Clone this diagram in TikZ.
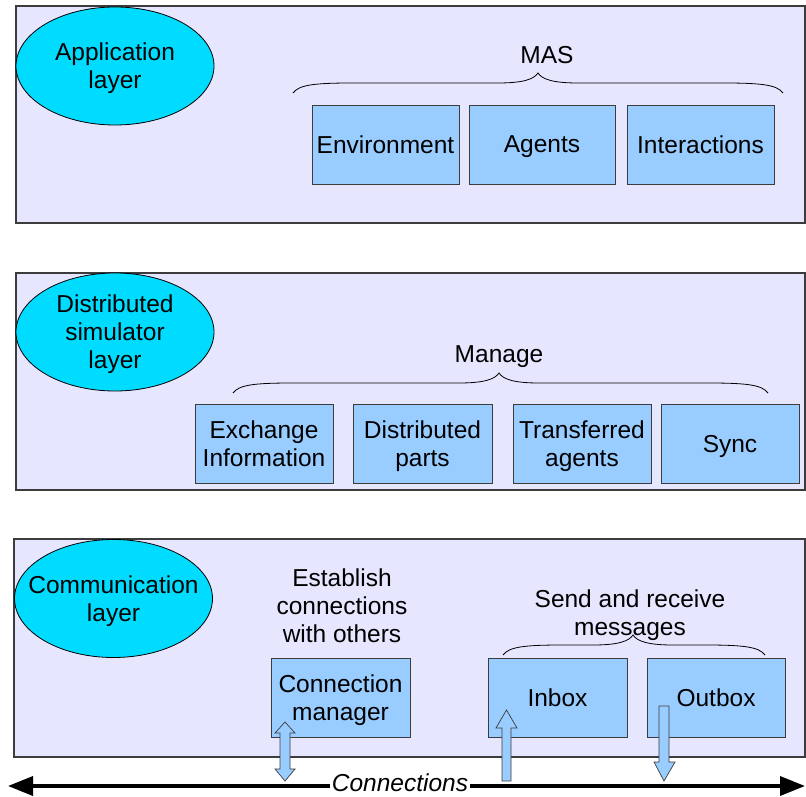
\documentclass[tikz,border=0pt]{standalone}
\usepackage{fontspec}
\setmainfont{Liberation Sans}
\usetikzlibrary{arrows.meta,shapes.geometric}
\definecolor{panelfill}{HTML}{E6E6FF}
\definecolor{ellfill}{HTML}{00DCFF}
\definecolor{boxfill}{HTML}{99CCFF}
\definecolor{edgecol}{HTML}{3C3C3C}
\newcommand{\mybrace}[4]{% #1 left x, #2 tip x, #3 right x, #4 bottom y
  \pgfmathsetmacro{\ya}{#4-10}\pgfmathsetmacro{\yb}{#4-20}\pgfmathsetmacro{\yc}{#4-14}
  \draw[braceline] (#1,#4) .. controls (#1+6,#4-8) and (#1+20,\ya) .. (#1+60,\ya)
    -- (#2-40,\ya) .. controls (#2-14,\ya) and (#2-4,\yc) .. (#2,\yb)
    .. controls (#2+4,\yc) and (#2+14,\ya) .. (#2+40,\ya)
    -- (#3-60,\ya) .. controls (#3-20,\ya) and (#3-6,#4-8) .. (#3,#4);}
\begin{document}
\begin{tikzpicture}[x=1pt,y=-1pt,
  every node/.style={font=\fontsize{24.5}{28}\selectfont, align=center, text depth=0pt},
  panel/.style={rectangle, draw=edgecol, line width=1.1pt, fill=panelfill, inner sep=0},
  layer/.style={ellipse, draw=black, line width=0.8pt, fill=ellfill, inner sep=0, minimum width=198pt, minimum height=118pt},
  compbox/.style={rectangle, draw=edgecol, line width=0.9pt, fill=boxfill, inner sep=0, minimum height=79pt},
  label/.style={inner sep=0},
  braceline/.style={draw=black, line width=0.8pt},
  blockarrow/.style={draw=edgecol, line width=0.7pt, fill=boxfill, line join=miter},
  conline/.style={line width=3.5pt, -{Triangle[length=25pt,width=19pt]}}
]
\useasboundingbox (0,0) rectangle (806,797);
\fill[white] (0,0) rectangle (806,797);

% Panels
\node[panel, minimum width=789pt, minimum height=217pt] (p1) at (410.5,114.5) {};
\node[panel, minimum width=789pt, minimum height=217pt] (p2) at (410.5,381.5) {};
\node[panel, minimum width=791pt, minimum height=218pt] (p3) at (409.5,648) {};

% Layer ellipses
\node[layer] (app) at (115,66) {};
\node[label] (appt) at (app) {Application\\layer};
\node[layer] (dist) at (115,332) {};
\node[label] (distt) at (dist) {Distributed\\simulator\\layer};
\node[layer] (comm) at (113.5,598.5) {};
\node[label] (commt) at (comm) {Communication\\layer};

% Application layer
\node[label] (mas) at (547,55) {MAS};
\mybrace{293}{538}{783}{93}
\node[compbox, minimum width=147pt] (env) at (385.5,144.5) {Environment};
\node[compbox, minimum width=146pt] (agents) at (542,144.5) {Agents};
\node[compbox, minimum width=147pt] (inter) at (700.5,144.5) {Interactions};

% Distributed simulator layer
\node[label] (manage) at (499,354) {Manage};
\mybrace{233}{499}{768}{393}
\node[compbox, minimum width=138pt] (exch) at (264,443.5) {Exchange\\Information};
\node[compbox, minimum width=139pt] (dparts) at (422.5,443.5) {Distributed\\parts};
\node[compbox, minimum width=138pt] (trans) at (582,443.5) {Transferred\\agents};
\node[compbox, minimum width=138pt] (sync) at (730,443.5) {Sync};

% Communication layer
\node[label] (estab) at (342,606) {Establish\\connections\\with others};
\node[label] (sendrec) at (630,613) {Send and receive\\messages};
\mybrace{503}{633}{765}{655}
\node[compbox, minimum width=139pt] (cmgr) at (340.5,697.5) {Connection\\manager};
\node[compbox, minimum width=139pt] (inbox) at (557.5,697.5) {Inbox};
\node[compbox, minimum width=138pt] (outbox) at (716,697.5) {Outbox};

% Connections line
\node[inner sep=1.5pt] (conn) at (400,783) {\itshape Connections};
\coordinate (lineL) at (8,786);
\coordinate (lineR) at (805,786);
\draw[conline] (conn.west |- lineL) -- (lineL);
\draw[conline] (conn.east |- lineR) -- (lineR);

% Block arrows
\draw[blockarrow] (285,722) -- (295,733) -- (290,733) -- (290,769) -- (295,769) -- (285,781)
  -- (275,769) -- (280,769) -- (280,733) -- (275,733) -- cycle;
\draw[blockarrow] (506.5,710) -- (517,728) -- (511,728) -- (511,781) -- (502,781) -- (502,728) -- (496,728) -- cycle;
\draw[blockarrow] (659,706) -- (669,706) -- (669,762) -- (675,762) -- (664,781) -- (654,762) -- (659,762) -- cycle;
\end{tikzpicture}
\end{document}
